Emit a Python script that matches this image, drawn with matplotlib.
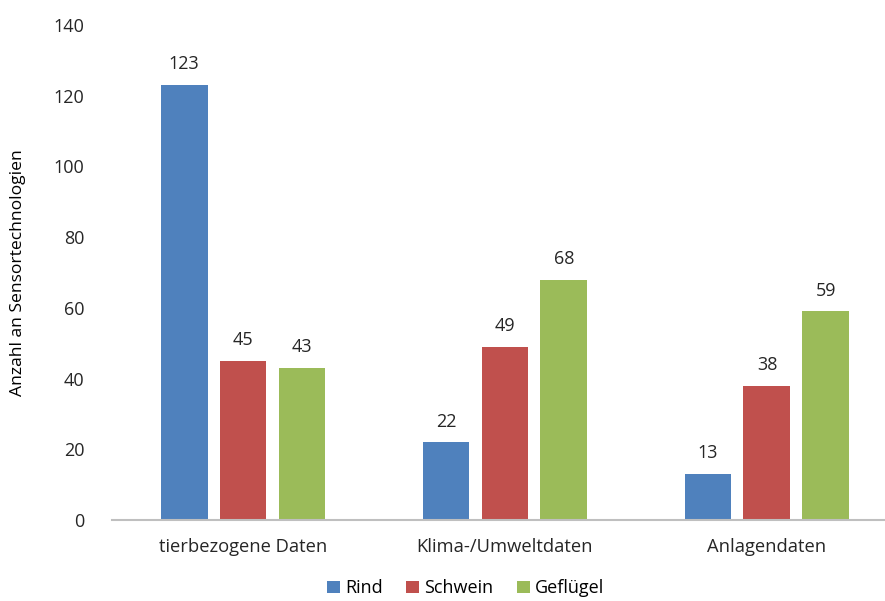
import numpy as np
import matplotlib.pyplot as plt

categories = ["tierbezogene Daten", "Klima-/Umweltdaten", "Anlagendaten"]
series = ["Rind", "Schwein", "Geflügel"]
rind = [123, 22, 13]
schwein = [45, 49, 38]
gefluegel = [43, 68, 59]
colors = ["#4F81BD", "#C0504D", "#9BBB59"]

plt.rcParams['font.family'] = ['Open Sans', 'DejaVu Sans']

fig = plt.figure(figsize=(8.85, 6.01), dpi=100)
ax = fig.add_axes([0.1266, 0.1348, 0.888, 0.8236])

x = np.arange(len(categories))
width = 0.179
step = 0.225
for i, (name, vals) in enumerate(zip(series, [rind, schwein, gefluegel])):
    pos = x + (i - 1) * step
    bars = ax.bar(pos, vals, width, color=colors[i], label=name)
    for b, v in zip(bars, vals):
        ax.text(b.get_x() + b.get_width() / 2, v + 3.3, str(v),
                ha='center', va='bottom', fontsize=13, color='#262626')

ax.set_xlim(-0.5, 2.5)
ax.set_ylim(0, 140)
ax.set_yticks(range(0, 141, 20))
ax.set_xticks(x)
ax.set_xticklabels(categories, fontsize=13.2)
ax.tick_params(axis='y', length=0, pad=20, labelsize=13, labelcolor='#262626')
ax.tick_params(axis='x', length=0, pad=13, labelcolor='#262626')
for s in ['top', 'right', 'left']:
    ax.spines[s].set_visible(False)
ax.spines['bottom'].set_color('#BFBFBF')
ax.spines['bottom'].set_linewidth(1.5)
ax.set_ylabel("Anzahl an Sensortechnologien", fontsize=12.6, labelpad=20)

ax.legend(loc='upper center', bbox_to_anchor=(0.45, -0.098), ncol=3,
          frameon=False, fontsize=13, handlelength=0.7, handleheight=0.7,
          handletextpad=0.3, columnspacing=1.3, borderpad=0.1)

fig.savefig("out.png", dpi=100)
